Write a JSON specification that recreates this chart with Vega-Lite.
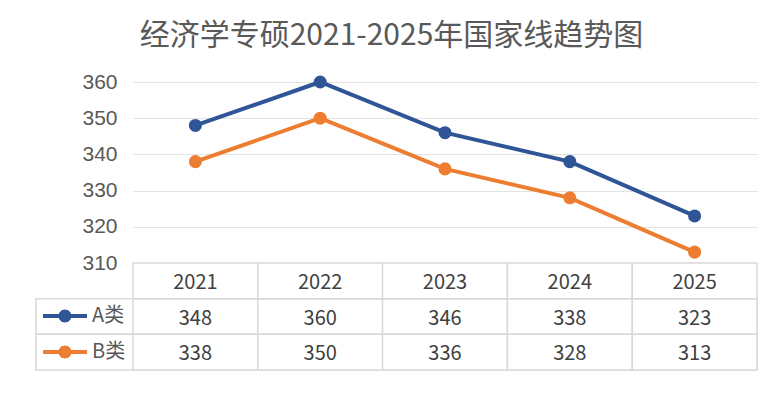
{
  "$schema": "https://vega.github.io/schema/vega-lite/v6.json",
  "width": 721,
  "height": 288,
  "autosize": {"type": "none"},
  "padding": {"left": 36, "top": 82, "right": 24, "bottom": 25},
  "background": "white",
  "title": {
    "text": "经济学专硕2021-2025年国家线趋势图",
    "font": "Noto Sans CJK SC",
    "fontSize": 30,
    "fontWeight": "normal",
    "color": "#595959",
    "anchor": "middle",
    "frame": "group",
    "offset": 20,
    "dx": -5
  },
  "config": {"view": {"stroke": null}, "font": "Noto Sans CJK SC"},
  "data": {
    "values": [
      {"year": "2021", "cat": "A类", "score": 348},
      {"year": "2022", "cat": "A类", "score": 360},
      {"year": "2023", "cat": "A类", "score": 346},
      {"year": "2024", "cat": "A类", "score": 338},
      {"year": "2025", "cat": "A类", "score": 323},
      {"year": "2021", "cat": "B类", "score": 338},
      {"year": "2022", "cat": "B类", "score": 350},
      {"year": "2023", "cat": "B类", "score": 336},
      {"year": "2024", "cat": "B类", "score": 328},
      {"year": "2025", "cat": "B类", "score": 313}
    ]
  },
  "resolve": {"scale": {"y": "independent"}},
  "layer": [
    {
      "layer": [
        {
          "transform": [{"filter": "datum.year == '2021'"}],
          "mark": {"type": "rect", "fill": "white", "stroke": "#d9d9d9", "strokeWidth": 1.5},
          "encoding": {
            "y": {"field": "cat", "type": "nominal", "scale": {"domain": ["年份", "A类", "B类"], "range": [181, 288], "paddingInner": 0, "paddingOuter": 0}, "axis": null}
          }
        },
        {
          "mark": {"type": "rect", "fill": "white", "stroke": "#d9d9d9", "strokeWidth": 1.5},
          "encoding": {
            "x": {"field": "year", "type": "ordinal", "scale": {"type": "band", "range": [97, 721], "paddingInner": 0, "paddingOuter": 0}, "axis": null},
            "y": {"field": "cat", "type": "nominal"}
          }
        },
        {
          "transform": [{"filter": "datum.cat == 'A类'"}],
          "mark": {"type": "rect", "fill": "white", "stroke": "#d9d9d9", "strokeWidth": 1.5},
          "encoding": {
            "x": {"field": "year", "type": "ordinal", "axis": null},
            "y": {"datum": "年份"}
          }
        },
        {
          "transform": [{"filter": "datum.cat == 'A类'"}],
          "mark": {"type": "text", "font": "Noto Sans CJK SC", "fontSize": 20, "color": "#404040", "baseline": "middle", "dy": 2},
          "encoding": {
            "x": {"field": "year", "type": "ordinal", "bandPosition": 0.5, "axis": null},
            "y": {"datum": "年份", "bandPosition": 0.5},
            "text": {"field": "year"}
          }
        },
        {
          "mark": {"type": "text", "font": "Noto Sans CJK SC", "fontSize": 20, "color": "#404040", "baseline": "middle", "dy": 2},
          "encoding": {
            "x": {"field": "year", "type": "ordinal", "bandPosition": 0.5, "axis": null},
            "y": {"field": "cat", "type": "nominal", "bandPosition": 0.5},
            "text": {"field": "score"}
          }
        }
      ]
    },
    {
      "layer": [
        {
          "mark": {"type": "line", "strokeWidth": 4},
          "encoding": {
            "x": {"field": "year", "type": "ordinal", "bandPosition": 0.5, "axis": null},
            "y": {
              "field": "score", "type": "quantitative",
              "scale": {"domain": [310, 360], "range": [181, 0], "zero": false, "nice": false},
              "axis": {
                "orient": "left",
                "values": [310, 320, 330, 340, 350, 360],
                "offset": -97,
                "domain": false,
                "ticks": false,
                "labelPadding": 16,
                "labelFont": "Liberation Sans",
                "labelFontSize": 21,
                "labelColor": "#595959",
                "grid": true,
                "gridColor": "#e3e3e3",
                "gridWidth": 1,
                "title": null
              }
            },
            "color": {"field": "cat", "type": "nominal", "scale": {"domain": ["A类", "B类"], "range": ["#2F5597", "#ED7D31"]}}
          }
        },
        {
          "mark": {"type": "point", "filled": true, "size": 170, "opacity": 1, "strokeWidth": 0},
          "encoding": {
            "x": {"field": "year", "type": "ordinal", "bandPosition": 0.5},
            "y": {"field": "score", "type": "quantitative"},
            "color": {
              "field": "cat", "type": "nominal",
              "legend": {
                "orient": "none",
                "legendX": 19,
                "legendY": 224,
                "title": null,
                "padding": 0,
                "symbolType": "M-2.2,-0.2H2.2V0.2H-2.2Z M0.65,0A0.65,0.65,0,1,1,-0.65,0A0.65,0.65,0,1,1,0.65,0Z",
                "symbolSize": 400,
                "symbolStrokeWidth": 0,
                "symbolOpacity": 1,
                "labelFont": "Noto Sans CJK SC",
                "labelFontSize": 20,
                "labelColor": "#595959",
                "labelOffset": 17,
                "rowPadding": 16
              }
            }
          }
        }
      ]
    }
  ]
}
